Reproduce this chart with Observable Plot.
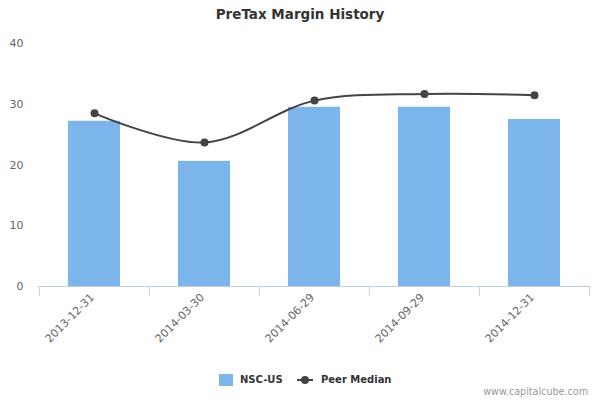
<!DOCTYPE html>
<html>
<head>
<meta charset="utf-8">
<script src="https://cdn.jsdelivr.net/npm/d3@7"></script>
<script src="https://cdn.jsdelivr.net/npm/@observablehq/plot@0.6"></script>
<style>
  html, body { margin: 0; padding: 0; background: #fff; }
  #wrap { position: relative; width: 600px; height: 400px; font-family: "DejaVu Sans", sans-serif; overflow: hidden; }
  #title { position: absolute; left: 0; top: 6px; width: 600px; text-align: center; font-size: 13.5px; font-weight: bold; color: #333; }
  #chart { position: absolute; left: 0; top: 30px; }
  .leg { position: absolute; font-size: 10px; font-weight: bold; color: #333; }
  #credit { position: absolute; right: 12px; top: 386px; font-size: 9.6px; color: #999; }
</style>
</head>
<body>
<div id="wrap">
  <div id="title">PreTax Margin History</div>
  <div id="chart"></div>
  <div id="legend"></div>
  <div id="credit">www.capitalcube.com</div>
</div>
<script>
const dates = ["2013-12-31", "2014-03-30", "2014-06-29", "2014-09-29", "2014-12-31"];
const companyValues = [27.2, 20.6, 29.5, 29.5, 27.5];
const peerMedian = [28.5, 23.7, 30.6, 31.7, 31.5];
const yTicks = [0, 10, 20, 30, 40];
const seriesNames = ["NSC-US", "Peer Median"];

const barColor = "#7cb5ec";
const lineColor = "#434348";
const axisColor = "#c0d0e0";

const bars = dates.map((d, i) => ({date: d, value: companyValues[i]}));
const peers = dates.map((d, i) => ({date: d, value: peerMedian[i]}));

const W = 600, H = 330, mL = 38, mR = 10;
const step = (W - mL - mR) / dates.length;

const chart = Plot.plot({
  width: W,
  height: H,
  marginTop: 13,
  marginBottom: 74,
  marginLeft: mL,
  marginRight: mR,
  style: {fontFamily: "DejaVu Sans, sans-serif", fontSize: "11px", color: "#666", background: "#fff"},
  x: {domain: dates, type: "band", paddingInner: 0.53, paddingOuter: 0.265, label: null},
  y: {domain: [0, 40], label: null},
  marks: [
    Plot.barY(bars, {x: "date", y: "value", fill: barColor}),
    Plot.ruleY([0], {stroke: axisColor, strokeWidth: 1}),
    Plot.axisX({tickSize: 10, text: null, stroke: axisColor, dx: -step / 2}),
    Plot.axisX({ticks: [dates[dates.length - 1]], tickSize: 10, text: null, stroke: axisColor, dx: step / 2}),
    Plot.axisX({tickSize: 0, tickRotate: -45, tickPadding: 9, fill: "#666", fontSize: 11, label: null, dx: -2}),
    Plot.axisY({ticks: yTicks, tickSize: 0, tickPadding: 15, fill: "#666", fontSize: 11, label: null}),
    Plot.line(peers, {x: "date", y: "value", stroke: lineColor, strokeWidth: 2, curve: "catmull-rom"}),
    Plot.dot(peers, {x: "date", y: "value", r: 4, fill: lineColor})
  ]
});
document.getElementById("chart").appendChild(chart);

// legend
const legend = document.getElementById("legend");
legend.innerHTML = `
  <div style="position:absolute;left:219px;top:374px;width:14px;height:12px;background:${barColor}"></div>
  <div class="leg" style="left:240px;top:374px;">${seriesNames[0]}</div>
  <svg style="position:absolute;left:296px;top:374px;" width="18" height="12">
    <line x1="1" y1="6" x2="17" y2="6" stroke="${lineColor}" stroke-width="2"/>
    <circle cx="9" cy="6" r="4" fill="${lineColor}"/>
  </svg>
  <div class="leg" style="left:321px;top:374px;">${seriesNames[1]}</div>
`;
</script>
</body>
</html>
